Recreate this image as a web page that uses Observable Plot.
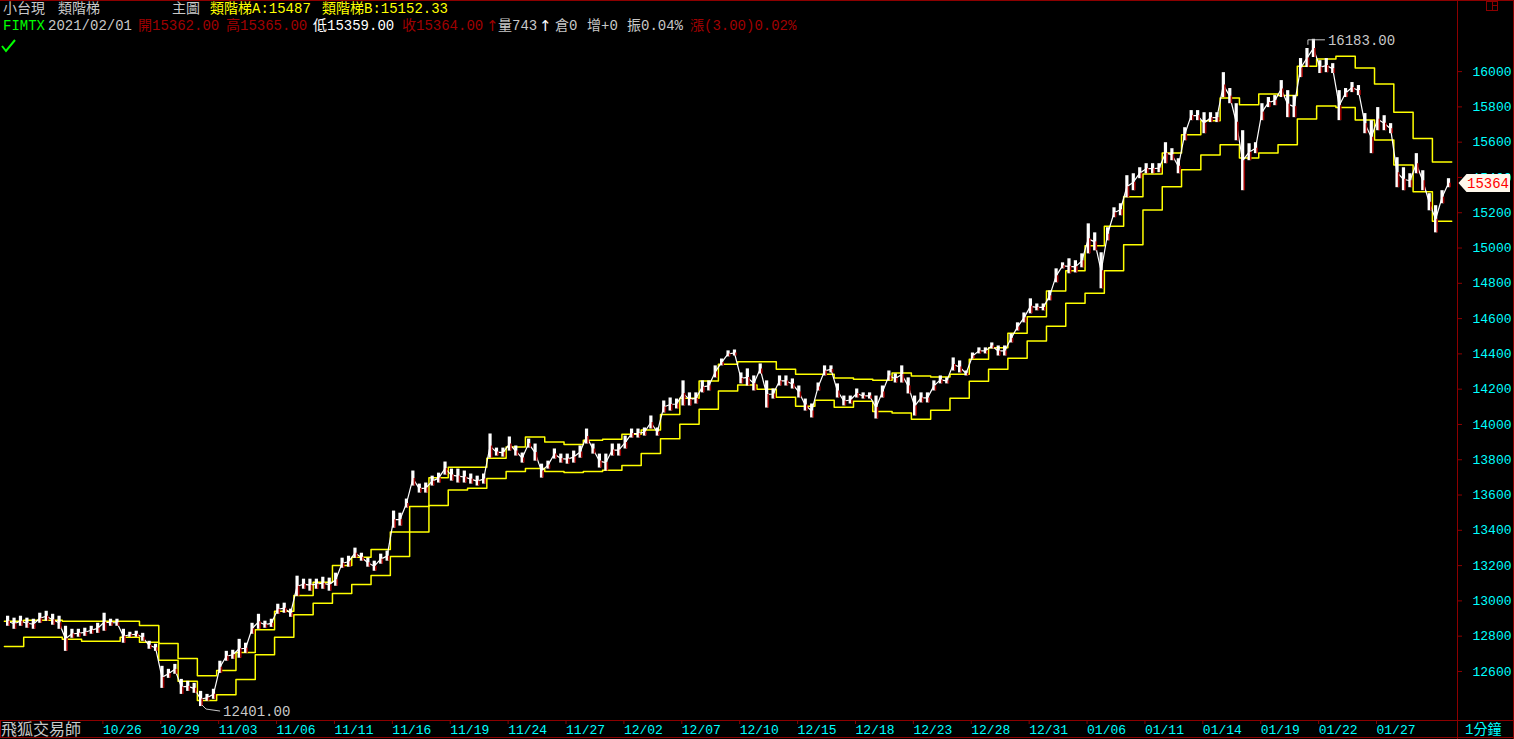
<!DOCTYPE html>
<html><head><meta charset="utf-8">
<script src="https://cdn.jsdelivr.net/npm/d3@7"></script>
<script src="https://cdn.jsdelivr.net/npm/@observablehq/plot@0.6"></script>
<style>
html,body{margin:0;padding:0;background:#000;overflow:hidden;}
#wrap{position:relative;width:1514px;height:739px;background:#000;}
#wrap svg{position:absolute;left:0;top:0;}
.t{position:absolute;font-family:"Liberation Mono","Noto Sans CJK TC",monospace;font-size:14px;line-height:16px;white-space:pre;}
</style></head><body><div id="wrap"></div>
<script>
// ---- data ----
const dayLabels = ["10/26","10/29","11/03","11/06","11/11","11/16","11/19","11/24","11/27","12/02","12/07","12/10","12/15","12/18","12/23","12/28","12/31","01/06","01/11","01/14","01/19","01/22","01/27"];
const labelDays = [5,8,11,14,17,20,23,26,29,32,35,38,41,44,47,50,53,56,59,62,65,68,71];
const yTicks = [12600,12800,13000,13200,13400,13600,13800,14000,14200,14400,14600,14800,15000,15200,15400,15600,15800,16000];

const ladderA = [12884,12890,12890,12884,12884, 12884,12884,12860,12758,12673, 12576,12605,12708,12837,12941,
  13030,13106,13200,13248,13291, 13390,13535,13698,13757,13757, 13808,13872,13929,13900,13887,
  13910,13916,13944,13968,14057, 14148,14246,14341,14356,14356, 14313,14284,14284,14263,14256,
  14250,14292,14275,14269,14284, 14370,14435,14517,14610,14757, 14871,15013,15124,15291,15419,
  15539,15642,15722,15851,15812, 15873,15864,16030,16072,16087, 16021,15930,15769,15621,15487];
const ladderB = [12742,12794,12794,12783,12771, 12771,12794,12765,12663,12544, 12436,12468,12554,12695,12794,
  12922,12987,13042,13093,13144, 13252,13390,13541,13628,13638, 13694,13734,13751,13734,13728,
  13734,13740,13768,13836,13919, 14001,14086,14190,14224,14199, 14154,14103,14137,14097,14131,
  14074,14065,14029,14080,14148, 14245,14313,14375,14473,14557, 14687,14744,14871,15018,15215,
  15347,15444,15527,15586,15510, 15539,15586,15732,15805,15797, 15726,15612,15470,15319,15152.33];

const priceHigh = [
  12913,12902,12913,12902,12896,12930,12941,12924,12913,12856,12839,12839,12845,12856,12873,
  12930,12896,12896,12839,12822,12828,12816,12771,12754,12629,12612,12640,12555,12544,12533,
  12487,12470,12499,12658,12714,12720,12782,12760,12873,12924,12885,12896,12981,12987,12953,
  13140,13123,13123,13123,13134,13129,13157,13242,13253,13299,13270,13242,13225,13265,13282,
  13509,13497,13577,13736,13662,13668,13707,13724,13787,13747,13747,13736,13719,13707,13719,
  13946,13866,13866,13929,13878,13838,13917,13889,13775,13792,13861,13832,13832,13849,13878,
  13974,13889,13832,13832,13889,13889,13934,13974,13974,13980,14048,13980,14133,14150,14144,
  14247,14179,14179,14247,14247,14332,14371,14417,14422,14292,14315,14275,14343,14247,14201,
  14275,14275,14258,14218,14144,14116,14235,14332,14332,14230,14161,14161,14201,14179,14179,
  14161,14218,14303,14286,14332,14264,14161,14179,14179,14247,14275,14264,14377,14360,14303,
  14405,14434,14434,14462,14445,14445,14513,14576,14632,14712,14683,14683,14757,14882,14916,
  14939,14928,14967,15137,15086,14973,15115,15228,15251,15410,15421,15455,15478,15478,15478,
  15597,15563,15506,15682,15779,15779,15767,15767,15767,15994,15904,15818,15665,15591,15597,
  15818,15853,15864,15949,15892,15864,16074,16131,16183,16062,16074,16045,15892,15904,15938,
  15921,15762,15722,15796,15750,15705,15512,15455,15421,15535,15438,15308,15240,15325,15393];
const priceLow = [
  12856,12839,12856,12845,12839,12873,12885,12862,12839,12714,12788,12794,12799,12811,12816,
  12828,12856,12856,12760,12794,12794,12771,12726,12714,12504,12561,12584,12470,12487,12476,
  12401,12431,12442,12589,12658,12669,12675,12703,12811,12839,12845,12850,12924,12930,12907,
  13026,13066,13055,13066,13066,13055,13083,13185,13191,13242,13225,13191,13168,13208,13225,
  13412,13424,13526,13651,13611,13611,13651,13668,13713,13679,13668,13668,13662,13651,13662,
  13809,13821,13815,13849,13821,13781,13866,13792,13696,13747,13804,13781,13775,13781,13809,
  13889,13832,13753,13736,13821,13821,13861,13923,13923,13934,13974,13934,14065,14076,14088,
  14105,14105,14116,14179,14190,14264,14332,14383,14388,14230,14218,14190,14286,14093,14144,
  14218,14218,14201,14150,14076,14037,14190,14275,14292,14150,14105,14116,14150,14144,14144,
  14031,14150,14247,14235,14235,14173,14048,14122,14122,14190,14230,14230,14303,14292,14275,
  14371,14400,14400,14428,14388,14388,14462,14530,14576,14627,14644,14644,14701,14803,14882,
  14854,14859,14888,14967,14984,14769,15041,15172,15183,15285,15325,15393,15421,15421,15427,
  15478,15495,15421,15608,15722,15722,15648,15711,15711,15853,15818,15608,15325,15495,15535,
  15722,15796,15807,15853,15739,15739,15966,16023,16080,15989,15994,15989,15722,15853,15881,
  15864,15648,15535,15665,15665,15648,15342,15325,15342,15421,15325,15211,15086,15251,15342];
const lastClose = 15364;
const quote = {date:"2021/02/01", open:"15362.00", high:"15365.00", low:"15359.00", close:"15364.00", vol:"743", oi:"0", inc:"+0", amp:"0.04%", chg:"(3.00)0.02%"};

// ---- build tables ----
const perDay = 3;
const cols = priceHigh.map((h, i) => ({x: (i + 0.5) / perDay, hi: h, lo: priceLow[i], mid: (h + priceLow[i]) / 2}));
const stepTable = arr => arr.map((v, k) => ({x: k, v})).concat([{x: arr.length, v: arr[arr.length - 1]}]);
const stepsA = stepTable(ladderA), stepsB = stepTable(ladderB);
const labelMap = new Map(labelDays.map((d, i) => [d, dayLabels[i]]));

const RED = "#8c0000";
const chart = Plot.plot({
  width: 1514, height: 739,
  marginTop: 3, marginBottom: 19, marginLeft: 1, marginRight: 57,
  style: {background: "#000", fontFamily: "Liberation Mono, monospace", fontSize: "13px", overflow: "visible"},
  x: {type: "linear", domain: [-0.15, 75.3]},
  y: {type: "linear", domain: [12322, 16386]},
  marks: [
    Plot.line(stepsA, {x: "x", y: "v", curve: "step-after", stroke: "#ffff00", strokeWidth: 1.5}),
    Plot.line(stepsB, {x: "x", y: "v", curve: "step-after", stroke: "#ffff00", strokeWidth: 1.5}),
    Plot.line(cols, {x: "x", y: "mid", stroke: "#ffffff", strokeWidth: 1.2}),
    Plot.ruleX(cols, {x: "x", y1: "lo", y2: "hi", stroke: "#ffffff", strokeWidth: 3.2}),
    Plot.ruleX(cols, {x: "x", y1: "lo", y2: "mid", stroke: "#9a0000", strokeWidth: 1.6, dx: 1.6}),
    Plot.axisY({anchor: "right", ticks: yTicks, tickSize: 4, tickPadding: 11, stroke: RED, fill: "#00ffff", tickFormat: d => String(d), label: null, fontSize: 13}),
    Plot.axisX({anchor: "bottom", ticks: labelDays, tickSize: 4, tickPadding: 0, stroke: RED, fill: "#00ffff", tickFormat: d => labelMap.get(d), textAnchor: "start", dx: 2, label: null, fontSize: 13})
  ]
});
const wrap = document.getElementById("wrap");
wrap.appendChild(chart);

// ---- decorations drawn from the scales ----
const xs = chart.scale("x"), ys = chart.scale("y");
const svg = d3.select(chart);
const g = svg.append("g").attr("text-anchor", "start");
const ln = (x1, y1, x2, y2) => g.append("line").attr("x1", x1).attr("y1", y1).attr("x2", x2).attr("y2", y2).attr("stroke", RED).attr("stroke-width", 1);
const xr = Math.round(xs.apply(75.3)) + 0.5;
ln(0, 0.5, 1514, 0.5);
ln(xr, 0, xr, 739);
ln(0, 720.5, 1514, 720.5);
ln(0, 737.5, 1514, 737.5);
ln(0.5, 720, 0.5, 738);
ln(1513.5, 0, 1513.5, 739);
g.append("rect").attr("x", 1486.5).attr("y", 1.5).attr("width", 11).attr("height", 9).attr("fill", "none").attr("stroke", RED);
ln(1492.5, 1.5, 1492.5, 10.5); ln(1492.5, 5.5, 1497.5, 5.5);

// check mark
g.append("path").attr("d", "M2,46 L6,51 L15,40").attr("fill", "none").attr("stroke", "#00ff00").attr("stroke-width", 2);

// extreme annotations
const iMax = d3.maxIndex(priceHigh), iMin = d3.minIndex(priceLow);
const px1 = xs.apply(cols[iMax].x), py1 = ys.apply(priceHigh[iMax]);
g.append("path").attr("d", `M${px1-5},${py1+6} V${py1+1} H${px1+12}`).attr("fill", "none").attr("stroke", "#c8c8c8");
g.append("text").attr("x", px1 + 15).attr("y", py1 + 1).attr("dy", "0.35em").attr("text-anchor", "start").attr("fill", "#c8c8c8").attr("font-size", 14).text(priceHigh[iMax].toFixed(2));
const px2 = xs.apply(cols[iMin].x), py2 = ys.apply(priceLow[iMin]);
g.append("path").attr("d", `M${px2+2},${py2-1} L${px2+6},${py2+3} L${px2+20},${py2+5}`).attr("fill", "none").attr("stroke", "#c8c8c8");
g.append("text").attr("x", px2 + 23).attr("y", py2 + 5).attr("dy", "0.35em").attr("text-anchor", "start").attr("fill", "#c8c8c8").attr("font-size", 14).text(priceLow[iMin].toFixed(2));

// last price marker
const pyc = Math.round(ys.apply(lastClose));
g.append("path").attr("d", `M${xr+1},${pyc} L${xr+9},${pyc-9} H1510 V${pyc+9} H${xr+9} Z`).attr("fill", "#fff8ec");
g.append("text").attr("x", 1509).attr("y", pyc).attr("dy", "0.35em").attr("text-anchor", "end").attr("fill", "#ff0000").attr("font-size", 14).text(String(lastClose));

// bottom band texts
g.append("text").attr("x", 1).attr("y", 729).attr("dy", "0.35em").attr("text-anchor", "start").attr("fill", "#c8c8c8").attr("font-size", 16).attr("font-family", "Noto Sans CJK TC").text("飛狐交易師");
g.append("text").attr("x", 1465).attr("y", 729).attr("dy", "0.35em").attr("text-anchor", "start").attr("fill", "#00ffff").attr("font-size", 14).attr("font-family", "Liberation Mono, Noto Sans CJK TC").text("1分鐘");

// header
const header = [
  [0, 3, "小台現", "#c8c8c8"], [0, 58, "類階梯", "#c8c8c8"], [0, 172, "主圖", "#c8c8c8"],
  [0, 210, "類階梯A:" + ladderA[ladderA.length - 1], "#ffff00"], [0, 322, "類階梯B:" + ladderB[ladderB.length - 1], "#ffff00"],
  [1, 3, "FIMTX", "#00ff00"], [1, 48, quote.date, "#c8c8c8"], [1, 138, "開" + quote.open, "#a00000"],
  [1, 226, "高" + quote.high, "#a00000"], [1, 313, "低" + quote.low, "#ffffff"], [1, 402, "收" + quote.close, "#a00000"], [1, 486, "↑", "#a00000"],
  [1, 498, "量" + quote.vol, "#c8c8c8"], [1, 539, "↑", "#ffffff"], [1, 555, "倉" + quote.oi, "#c8c8c8"], [1, 587, "增" + quote.inc, "#c8c8c8"],
  [1, 627, "振" + quote.amp, "#c8c8c8"], [1, 690, "漲" + quote.chg, "#a00000"]
];
for (const [row, x, text, color] of header) {
  const d = document.createElement("div");
  d.className = "t"; d.style.left = x + "px"; d.style.top = (row * 17 + 1) + "px"; d.style.color = color; d.textContent = text;
  if (text === "↑") { d.style.fontFamily = "DejaVu Sans"; d.style.fontSize = "15px"; }
  wrap.appendChild(d);
}
</script></body></html>
